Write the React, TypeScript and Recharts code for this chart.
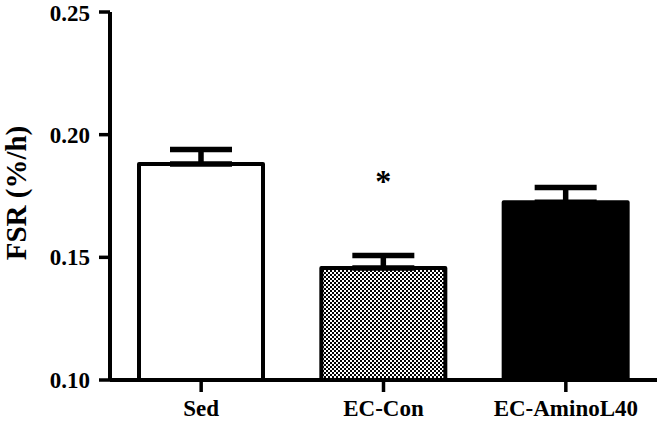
import React from 'react';
import { BarChart, Bar, XAxis, YAxis, ErrorBar, Cell, LabelList } from 'recharts';

const categories = ['Sed', 'EC-Con', 'EC-AminoL40'];
const fsrMeans = [0.188, 0.1457, 0.1725];
const fsrErrors = [0.006, 0.005, 0.006];
const significance = ['', '*', ''];
const yTicks = [0.1, 0.15, 0.2, 0.25];

const barFills = ['#ffffff', 'url(#checker)', '#000000'];
const FONT = '"Liberation Serif", "Times New Roman", serif';

const data = categories.map((name, i) => ({
  name,
  value: fsrMeans[i],
  err: [0, fsrErrors[i]],
  sig: significance[i],
}));

const SigLabel = (props: any) => {
  const { x, y, width, value } = props;
  if (!value) return null;
  return (
    <text
      x={x + width / 2}
      y={y - 76}
      textAnchor="middle"
      fontFamily={FONT}
      fontWeight="bold"
      fontSize={32}
      fill="#000"
    >
      {value}
    </text>
  );
};

const YLabel = (props: any) => {
  const { viewBox } = props;
  const cy = viewBox.y + viewBox.height / 2 - 3;
  return (
    <text
      transform={`translate(26, ${cy}) rotate(-90)`}
      textAnchor="middle"
      fontFamily={FONT}
      fontWeight="bold"
      fontSize={29}
      fill="#000"
    >
      FSR (%/h)
    </text>
  );
};

export default function App() {
  return (
    <div style={{ position: 'absolute', left: 0, top: 0, background: '#fff' }}>
      <BarChart
        width={661}
        height={421}
        data={data}
        margin={{ top: 12, right: 4, bottom: 0, left: 0 }}
      >
        <defs>
          <pattern id="checker" width="4" height="4" patternUnits="userSpaceOnUse">
            <rect width="4" height="4" fill="#ffffff" />
            <rect x="0" y="0" width="2" height="2" fill="#000000" />
            <rect x="2" y="2" width="2" height="2" fill="#000000" />
          </pattern>
        </defs>
        <XAxis
          dataKey="name"
          height={41}
          axisLine={{ stroke: '#000', strokeWidth: 4 }}
          tickLine={{ stroke: '#000', strokeWidth: 3.5 }}
          tickSize={12}
          tickMargin={8}
          tick={{ fill: '#000', fontFamily: FONT, fontWeight: 'bold', fontSize: 23 }}
          interval={0}
        />
        <YAxis
          width={110}
          domain={[0.1, 0.25]}
          ticks={yTicks}
          allowDataOverflow
          tickFormatter={(v: number) => v.toFixed(2)}
          axisLine={{ stroke: '#000', strokeWidth: 4 }}
          tickLine={{ stroke: '#000', strokeWidth: 3.5 }}
          tickSize={11}
          tickMargin={9}
          tick={{ fill: '#000', fontFamily: FONT, fontWeight: 'bold', fontSize: 23 }}
          label={<YLabel />}
        />
        <Bar
          dataKey="value"
          barSize={124}
          stroke="#000"
          strokeWidth={4}
          strokeLinejoin="round"
          isAnimationActive={false}
        >
          {data.map((d, i) => (
            <Cell key={d.name} fill={barFills[i]} />
          ))}
          <ErrorBar
            dataKey="err"
            width={31}
            stroke="#000"
            strokeWidth={5.5}
            direction="y"
          />
          <LabelList dataKey="sig" content={<SigLabel />} />
        </Bar>
      </BarChart>
    </div>
  );
}
